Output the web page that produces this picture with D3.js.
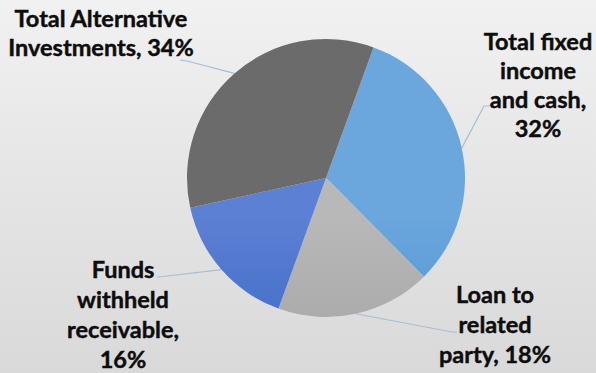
<!DOCTYPE html>
<html>
<head>
<meta charset="utf-8">
<script src="https://cdn.jsdelivr.net/npm/d3@7"></script>
<style>
  html, body { margin: 0; padding: 0; }
  body { width: 596px; height: 373px; overflow: hidden; }
  svg { display: block; }
</style>
</head>
<body>
<script>
// datos del grafico (orden de las porciones, en sentido horario)
var categorias = ["Total fixed income and cash", "Loan to related party", "Funds withheld receivable", "Total Alternative Investments"];
var valores = [32, 18, 16, 34];
// lineas de cada etiqueta, {v} es el porcentaje
var lineasEtiqueta = [
  ["Total fixed", "income", "and cash,", "{v}%"],
  ["Loan to", "related", "party, {v}%"],
  ["Funds", "withheld", "receivable,", "{v}%"],
  ["Total Alternative", "Investments, {v}%"]
];

// colores (arriba, abajo) de cada porcion
var coloresArriba = ["#6ba6dd", "#b8b8b8", "#5c80d3", "#6b6b6b"];
var coloresAbajo = ["#3583cc", "#969696", "#2457bd", "#4f4f4f"];

// posicion de las etiquetas y de los codos de las lineas guia
var posEtiqueta = [
  {x: 538, y: 50, lh: 29, codo: [484, 106], fin: [490, 106]},
  {x: 495, y: 303, lh: 30, codo: [452, 332], fin: [457, 332]},
  {x: 123, y: 278, lh: 30, codo: [163, 276.5], fin: [157, 277]},
  {x: 101, y: 26.5, lh: 29, codo: [187, 61], fin: [180, 60]}
];

var w = 596, h = 373;
var cx = 326, cy = 178, r = 139;
var inicio = 20 * Math.PI / 180;

var svg = d3.select("body").append("svg")
  .attr("width", w)
  .attr("height", h);

var defs = svg.append("defs");

// fondo con degradado gris
var fondo = defs.append("linearGradient")
  .attr("id", "fondo")
  .attr("x1", 0).attr("y1", 0).attr("x2", 0).attr("y2", 1);
fondo.append("stop").attr("offset", "0%").attr("stop-color", "#f1f1f1");
fondo.append("stop").attr("offset", "100%").attr("stop-color", "#d9d9d9");

svg.append("rect")
  .attr("width", w)
  .attr("height", h)
  .attr("fill", "url(#fondo)");

// degradados de las porciones
categorias.forEach(function(c, i) {
  var g = defs.append("linearGradient")
    .attr("id", "grad" + i)
    .attr("gradientUnits", "userSpaceOnUse")
    .attr("x1", 0).attr("y1", cy - r).attr("x2", 0).attr("y2", cy + r);
  g.append("stop").attr("offset", "0%").attr("stop-color", coloresArriba[i]);
  g.append("stop").attr("offset", "100%").attr("stop-color", coloresAbajo[i]);
});

var datos = categorias.map(function(c, i) { return {nombre: c, valor: valores[i], i: i}; });

var pie = d3.pie()
  .value(function(d) { return d.valor; })
  .sort(null)
  .startAngle(inicio)
  .endAngle(inicio + 2 * Math.PI);

var arco = d3.arc().innerRadius(0).outerRadius(r);
var borde = d3.arc().innerRadius(r).outerRadius(r);

var porciones = pie(datos);

var g = svg.append("g")
  .attr("transform", "translate(" + cx + "," + cy + ")");

// lineas guia
g.selectAll(".guia")
  .data(porciones)
  .enter().append("polyline")
  .attr("class", "guia")
  .attr("fill", "none")
  .attr("stroke", "#a9bdd6")
  .attr("stroke-width", 1.2)
  .attr("points", function(d) {
    var p = borde.centroid(d);
    var e = posEtiqueta[d.data.i];
    return [p, [e.codo[0] - cx, e.codo[1] - cy], [e.fin[0] - cx, e.fin[1] - cy]]
      .map(function(q) { return q.join(","); }).join(" ");
  });

g.selectAll(".porcion")
  .data(porciones)
  .enter().append("path")
  .attr("class", "porcion")
  .attr("d", arco)
  .attr("fill", function(d) { return "url(#grad" + d.data.i + ")"; });

// etiquetas
var etiquetas = svg.selectAll(".etiqueta")
  .data(porciones)
  .enter().append("text")
  .attr("class", "etiqueta")
  .attr("text-anchor", "middle")
  .attr("font-family", "Lato, 'Open Sans', sans-serif")
  .attr("font-weight", "bold")
  .attr("font-size", "23.5px")
  .attr("fill", "#0d0d0d")
  .attr("stroke", "#0d0d0d")
  .attr("stroke-width", 0.45);

etiquetas.each(function(d) {
  var e = posEtiqueta[d.data.i];
  var t = d3.select(this);
  lineasEtiqueta[d.data.i].forEach(function(l, k) {
    t.append("tspan")
      .attr("x", e.x)
      .attr("y", e.y + k * e.lh)
      .text(l.replace("{v}", d.data.valor));
  });
});
</script>
</body>
</html>
